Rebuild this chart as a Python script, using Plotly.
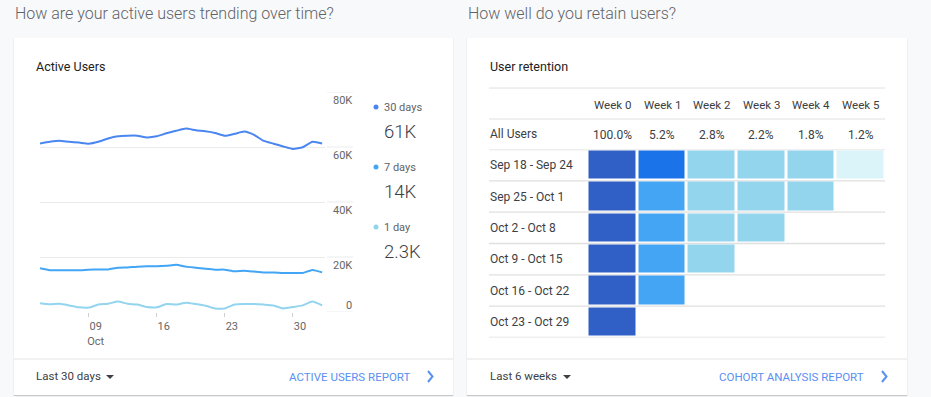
import plotly.graph_objects as go
import pandas as pd

# ---------------- data ----------------
dates = pd.date_range("2023-10-04", "2023-11-02", freq="D")
users_30d = [61.3, 61.9, 62.3, 61.9, 61.6, 61.2, 61.9, 63.1, 63.9, 64.1,
             64.1, 63.5, 63.9, 65.0, 65.9, 66.7, 66.1, 65.7, 65.1, 64.1,
             64.8, 65.6, 64.4, 62.2, 61.2, 60.2, 59.3, 59.9, 61.9, 61.3]
users_7d = [15.9, 15.2, 15.2, 15.2, 15.2, 15.4, 15.5, 15.5, 16.1, 16.2,
            16.5, 16.6, 16.6, 16.8, 17.2, 16.5, 16.1, 15.7, 15.4, 15.4,
            14.8, 15.0, 14.7, 14.4, 14.4, 14.2, 14.2, 14.2, 15.3, 14.4]
users_1d = [3.15, 2.8, 3.0, 2.4, 1.7, 1.6, 2.7, 3.0, 3.8, 3.0,
            2.7, 1.8, 1.7, 2.9, 2.7, 3.4, 2.9, 2.3, 1.3, 1.3,
            2.7, 2.9, 2.9, 2.7, 2.4, 1.3, 1.8, 2.4, 3.8, 2.4]
series_names = ["30 days", "7 days", "1 day"]
series_totals = ["61K", "14K", "2.3K"]
y_tickvals = [0, 20000, 40000, 60000, 80000]
y_ticktext = ["0", "20K", "40K", "60K", "80K"]
x_tickvals = ["2023-10-09", "2023-10-16", "2023-10-23", "2023-10-30"]
x_ticktext = ["09<br>Oct", "16", "23", "30"]

weeks = ["Week 0", "Week 1", "Week 2", "Week 3", "Week 4", "Week 5"]
all_users = ["100.0%", "5.2%", "2.8%", "2.2%", "1.8%", "1.2%"]
cohorts = ["Sep 18 - Sep 24", "Sep 25 - Oct 1", "Oct 2 - Oct 8",
           "Oct 9 - Oct 15", "Oct 16 - Oct 22", "Oct 23 - Oct 29"]
retention = [
    [100, 6.1, 2.9, 2.3, 1.8, 1.2],
    [100, 5.3, 2.8, 2.2, 1.8, None],
    [100, 5.0, 2.8, 2.1, None, None],
    [100, 5.1, 2.7, None, None, None],
    [100, 5.0, None, None, None, None],
    [100, None, None, None, None, None],
]

# ---------------- helpers ----------------
W, H = 931, 397
def px(x): return x / W
def py(y): return 1 - y / H

FONT = "Roboto"
c30, c7, c1 = "#4a86f0", "#42a5f5", "#93d4ee"
link = "#5b8ff0"

fig = go.Figure()

# line chart
for vals, col, name in zip([users_30d, users_7d, users_1d], [c30, c7, c1], series_names):
    fig.add_trace(go.Scatter(
        x=dates, y=[v * 1000 for v in vals], mode="lines", name=name,
        line=dict(color=col, width=2, shape="spline", smoothing=0.5),
        hoverinfo="skip", xaxis="x", yaxis="y"))

# retention heatmap
c_a, c_b, c_c, c_d, c_e = "#daf4f9", "#93d5ed", "#45a5f5", "#1a73e8", "#305fc6"
cscale = [[0, c_a], [0.015, c_a], [0.015, c_b], [0.04, c_b], [0.04, c_c],
          [0.058, c_c], [0.058, c_d], [0.5, c_d], [0.5, c_e], [1, c_e]]
fig.add_trace(go.Heatmap(
    z=retention, x=list(range(len(weeks))), y=list(range(len(cohorts))),
    colorscale=cscale, zmin=0, zmax=100, showscale=False, xgap=3, ygap=3,
    hoverinfo="skip", xaxis="x2", yaxis="y2"))

shapes = []
annotations = []

def rect(x0, y0, x1, y1, color, line=None):
    shapes.append(dict(type="rect", xref="paper", yref="paper", layer="below",
                       x0=px(x0), x1=px(x1), y0=py(y1), y1=py(y0),
                       fillcolor=color, line=dict(width=0) if line is None else line))

def hline(x0, x1, y, color="#e0e0e0", width=1):
    shapes.append(dict(type="line", xref="paper", yref="paper", layer="below",
                       x0=px(x0), x1=px(x1), y0=py(y), y1=py(y),
                       line=dict(color=color, width=width)))

def text(x, y, s, size=12, color="#3c4043", anchor="left", weight=400):
    if anchor == "left":
        x -= 2
    annotations.append(dict(xref="paper", yref="paper", x=px(x), y=py(y), text=s,
                            showarrow=False, xanchor=anchor, yanchor="middle",
                            font=dict(family=FONT, size=size, color=color, weight=weight)))

# cards with shadows
for (x0, x1) in [(14, 453), (467, 907)]:
    rect(x0 - 0.5, 38.5, x1 + 0.5, 396.5, "rgba(0,0,0,0.07)")
    rect(x0, 39, x1, 396, "rgba(0,0,0,0.13)")
    rect(x0, 38, x1, 395, "#ffffff")
    hline(x0, x1, 359, "#e3e3e3")

# section titles
text(15, 13, "How are your active users trending over time?", 16, "#5f6368", weight=300)
text(468, 13, "How well do you retain users?", 16, "#5f6368", weight=300)
text(36, 67, "Active Users", 12.5, "#212121")
text(490, 67, "User retention", 12.5, "#212121")

# gridline extension to the right of the line plot + y tick labels
for v, t in zip(y_tickvals, y_ticktext):
    shapes.append(dict(type="line", xref="paper", yref="y", layer="below",
                       x0=px(327), x1=px(353), y0=v, y1=v,
                       line=dict(color="#ebebeb", width=1)))
    annotations.append(dict(xref="paper", yref="y", x=px(354), y=v, text=t,
                            showarrow=False, xanchor="right", yanchor="middle",
                            yshift=7 if v == 0 else -8,
                            font=dict(family=FONT, size=11, color="#666666")))

# line legend
for i, (name, tot, col) in enumerate(zip(series_names, series_totals, [c30, c7, c1])):
    yc = 107 + i * 60
    shapes.append(dict(type="circle", xref="paper", yref="paper",
                       x0=px(373.5), x1=px(378.5), y0=py(yc + 2.5), y1=py(yc - 2.5),
                       fillcolor=col, line=dict(width=0)))
    text(384, yc, name, 11, "#5f6368")
    text(384, yc + 25, tot, 18.5, "#3c4043", weight=300)

# retention table
table_lines = [88, 119]
for y in table_lines:
    hline(489, 885, y)
for k in range(len(cohorts) + 1):
    shapes.append(dict(type="line", xref="paper", yref="y2", layer="below",
                       x0=px(489), x1=px(885), y0=k - 0.5, y1=k - 0.5,
                       line=dict(color="#e0e0e0", width=1.3)))
for j, (w, a) in enumerate(zip(weeks, all_users)):
    annotations.append(dict(xref="x2", yref="paper", x=j, y=py(105), text=w,
                            showarrow=False, xanchor="center", yanchor="middle",
                            font=dict(family=FONT, size=11.5, color="#3c4043")))
    annotations.append(dict(xref="x2", yref="paper", x=j, y=py(135), text=a,
                            showarrow=False, xanchor="center", yanchor="middle",
                            font=dict(family=FONT, size=12, color="#3c4043")))
text(490, 134, "All Users", 12, "#3c4043")
for i, c in enumerate(cohorts):
    annotations.append(dict(xref="paper", yref="y2", x=px(488), y=i, text=c,
                            showarrow=False, xanchor="left", yanchor="middle",
                            font=dict(family=FONT, size=12, color="#3c4043")))

# footers
def footer(xl, label, tri_x, link_text, link_right, chev_x):
    text(xl, 376, label, 11.5, "#3c4043")
    shapes.append(dict(type="path", xref="paper", yref="paper",
                       path=f"M {px(tri_x-4)} {py(375)} L {px(tri_x+4)} {py(375)} L {px(tri_x)} {py(379)} Z",
                       fillcolor="#3c4043", line=dict(width=0)))
    text(link_right, 377, link_text, 11.5, link, anchor="right")
    shapes.append(dict(type="path", xref="paper", yref="paper",
                       path=f"M {px(chev_x-2)} {py(371)} L {px(chev_x+2.5)} {py(376.5)} L {px(chev_x-2)} {py(382)}",
                       line=dict(color=link, width=2)))

footer(36, "Last 30 days", 110, "ACTIVE USERS REPORT", 412, 430)
footer(490, "Last 6 weeks", 567, "COHORT ANALYSIS REPORT", 866, 884)

fig.update_layout(
    width=W, height=H, autosize=False,
    margin=dict(l=0, r=0, t=0, b=0),
    paper_bgcolor="#f8f9fa", plot_bgcolor="rgba(0,0,0,0)",
    showlegend=False, shapes=shapes, annotations=annotations,
    font=dict(family=FONT),
    xaxis=dict(domain=[px(40), px(325)],
               range=[dates[0], dates[-1] + pd.Timedelta(hours=7)],
               tickvals=x_tickvals, ticktext=x_ticktext,
               ticks="outside", ticklen=4, tickcolor="#d0d0d0",
               tickfont=dict(family=FONT, size=11, color="#666666"),
               ticklabelshift=7, showgrid=False, zeroline=False, showline=False,
               fixedrange=True),
    yaxis=dict(domain=[py(312), py(92)], range=[0, 80000],
               tickvals=y_tickvals, showticklabels=False,
               gridcolor="#ebebeb", gridwidth=1, zeroline=False, showline=False,
               fixedrange=True),
    xaxis2=dict(domain=[px(587.5), px(885.5)], range=[-0.5, 5.5], visible=False,
                anchor="y2", fixedrange=True),
    yaxis2=dict(domain=[py(337.5), py(149.5)], range=[5.5, -0.5], visible=False,
                anchor="x2", fixedrange=True),
)

fig.write_html("out.html", config={"displayModeBar": False},
               post_script="document.body.style.margin='0';document.body.style.background='#f8f9fa';")
